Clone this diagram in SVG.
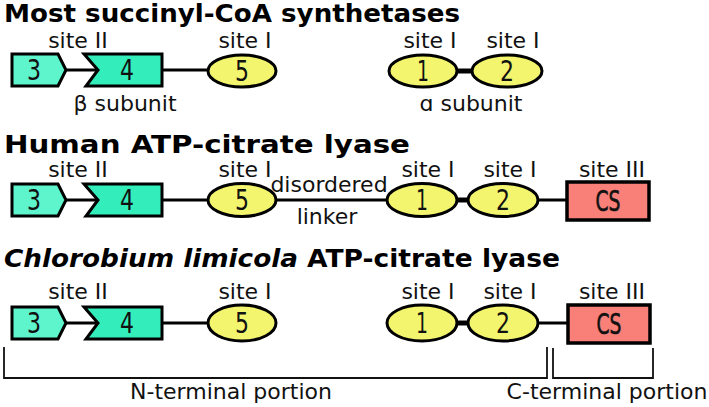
<svg xmlns="http://www.w3.org/2000/svg" width="709" height="407" viewBox="0 0 709 407">
<style>
.title{font-family:"DejaVu Sans",Verdana,sans-serif;font-weight:bold;font-size:25px;fill:#000}
.lbl{font-family:"DejaVu Sans",Verdana,sans-serif;font-size:22px;fill:#111;text-anchor:middle}
.num{font-family:"DejaVu Sans Condensed","DejaVu Sans",sans-serif;font-size:29px;fill:#111;text-anchor:middle}
.cs{font-family:"DejaVu Sans Condensed","DejaVu Sans",sans-serif;font-size:29px;fill:#111;stroke:#111;stroke-width:0.6;text-anchor:middle}
.pent{fill:#5ef5cd;stroke:#000;stroke-width:3;stroke-linejoin:miter}
.chev{fill:#33eebb;stroke:#000;stroke-width:3}
.ell{fill:#f3f56e;stroke:#000;stroke-width:3}
.box{fill:#f98079;stroke:#000;stroke-width:3.5}
.ln{stroke:#000;stroke-width:3;fill:none}
.thick{stroke:#000;stroke-width:5;fill:none}
.br{stroke:#111;stroke-width:1.8;fill:none}
</style>

<text class="title" x="4" y="22" textLength="456" lengthAdjust="spacingAndGlyphs">Most succinyl-CoA synthetases</text>
<text class="title" x="4" y="153" textLength="406" lengthAdjust="spacingAndGlyphs">Human ATP-citrate lyase</text>
<text class="title" x="4" y="267" font-style="italic" textLength="294" lengthAdjust="spacingAndGlyphs">Chlorobium limicola</text>
<text class="title" x="307" y="267" textLength="253" lengthAdjust="spacingAndGlyphs">ATP-citrate lyase</text>

<g id="connectors">
<line class="ln" x1="66" y1="70" x2="98" y2="70"/>
<line class="ln" x1="162" y1="70" x2="208" y2="70"/>
<line class="thick" x1="455" y1="71" x2="474" y2="71"/>
<line class="ln" x1="66" y1="200" x2="98" y2="200"/>
<line class="ln" x1="162" y1="200" x2="208" y2="200"/>
<line class="ln" x1="276" y1="200" x2="388" y2="200"/>
<line class="thick" x1="455" y1="200" x2="470" y2="200"/>
<line class="ln" x1="537" y1="200" x2="567" y2="200"/>
<line class="ln" x1="66" y1="323" x2="98" y2="323"/>
<line class="ln" x1="162" y1="323" x2="208" y2="323"/>
<line class="thick" x1="455" y1="323" x2="470" y2="323"/>
<line class="ln" x1="537" y1="323" x2="568" y2="323"/>
</g>

<g id="r1-d3"><polygon class="pent" points="12,54 58,54 66,70 58,86 12,86"/><text class="num" x="34" y="80" textLength="14" lengthAdjust="spacingAndGlyphs">3</text></g>
<g id="r1-d4"><polygon class="chev" points="84,54 162,54 162,86 86,86 98,70"/><text class="num" x="127" y="80" textLength="14" lengthAdjust="spacingAndGlyphs">4</text></g>
<g id="r1-d5"><ellipse class="ell" cx="242" cy="71" rx="34" ry="16"/><text class="num" x="242" y="81" textLength="14" lengthAdjust="spacingAndGlyphs">5</text></g>
<g id="r1-d1"><ellipse class="ell" cx="423" cy="71" rx="34" ry="16"/><text class="num" x="423" y="81" textLength="12" lengthAdjust="spacingAndGlyphs">1</text></g>
<g id="r1-d2"><ellipse class="ell" cx="507" cy="71" rx="35" ry="16"/><text class="num" x="507" y="81" textLength="14" lengthAdjust="spacingAndGlyphs">2</text></g>
<text class="lbl" x="78" y="48">site II</text>
<text class="lbl" x="245" y="48">site I</text>
<text class="lbl" x="430" y="48">site I</text>
<text class="lbl" x="513" y="48">site I</text>
<text class="lbl" x="125" y="111">β subunit</text>
<text class="lbl" x="471" y="111">ɑ subunit</text>

<g id="r2-d3"><polygon class="pent" points="12,184 58,184 66,200 58,216 12,216"/><text class="num" x="34" y="210" textLength="14" lengthAdjust="spacingAndGlyphs">3</text></g>
<g id="r2-d4"><polygon class="chev" points="84,184 162,184 162,216 86,216 98,200"/><text class="num" x="127" y="210" textLength="14" lengthAdjust="spacingAndGlyphs">4</text></g>
<g id="r2-d5"><ellipse class="ell" cx="242" cy="200" rx="34" ry="16.5"/><text class="num" x="242" y="210" textLength="14" lengthAdjust="spacingAndGlyphs">5</text></g>
<g id="r2-d1"><ellipse class="ell" cx="422" cy="200" rx="35" ry="16.5"/><text class="num" x="422" y="210" textLength="12" lengthAdjust="spacingAndGlyphs">1</text></g>
<g id="r2-d2"><ellipse class="ell" cx="503" cy="200" rx="35" ry="16.5"/><text class="num" x="503" y="210" textLength="14" lengthAdjust="spacingAndGlyphs">2</text></g>
<g id="r2-cs"><rect class="box" x="567" y="182" width="82" height="38"/><text class="cs" x="608" y="211" textLength="25" lengthAdjust="spacingAndGlyphs">CS</text></g>
<text class="lbl" x="78" y="177">site II</text>
<text class="lbl" x="245" y="177">site I</text>
<text class="lbl" x="428" y="177">site I</text>
<text class="lbl" x="510" y="177">site I</text>
<text class="lbl" x="612" y="177">site III</text>
<text class="lbl" x="329" y="192">disordered</text>
<text class="lbl" x="327" y="224">linker</text>

<g id="r3-d3"><polygon class="pent" points="12,307 58,307 66,323 58,339 12,339"/><text class="num" x="34" y="333" textLength="14" lengthAdjust="spacingAndGlyphs">3</text></g>
<g id="r3-d4"><polygon class="chev" points="84,307 162,307 162,339 86,339 98,323"/><text class="num" x="127" y="333" textLength="14" lengthAdjust="spacingAndGlyphs">4</text></g>
<g id="r3-d5"><ellipse class="ell" cx="242" cy="323" rx="34" ry="18"/><text class="num" x="242" y="333" textLength="14" lengthAdjust="spacingAndGlyphs">5</text></g>
<g id="r3-d1"><ellipse class="ell" cx="422" cy="323" rx="35" ry="18"/><text class="num" x="422" y="333" textLength="12" lengthAdjust="spacingAndGlyphs">1</text></g>
<g id="r3-d2"><ellipse class="ell" cx="503" cy="323" rx="35" ry="18"/><text class="num" x="503" y="333" textLength="14" lengthAdjust="spacingAndGlyphs">2</text></g>
<g id="r3-cs"><rect class="box" x="568" y="305" width="82" height="38"/><text class="cs" x="609" y="334" textLength="25" lengthAdjust="spacingAndGlyphs">CS</text></g>
<text class="lbl" x="78" y="299">site II</text>
<text class="lbl" x="245" y="299">site I</text>
<text class="lbl" x="428" y="299">site I</text>
<text class="lbl" x="510" y="299">site I</text>
<text class="lbl" x="612" y="299">site III</text>

<g id="brackets">
<polyline class="br" points="4,347 4,378 547,378 547,347"/>
<polyline class="br" points="553,348 553,378 653,378 653,348"/>
</g>
<text class="lbl" x="231" y="399">N-terminal portion</text>
<text class="lbl" x="607" y="399">C-terminal portion</text>
</svg>
